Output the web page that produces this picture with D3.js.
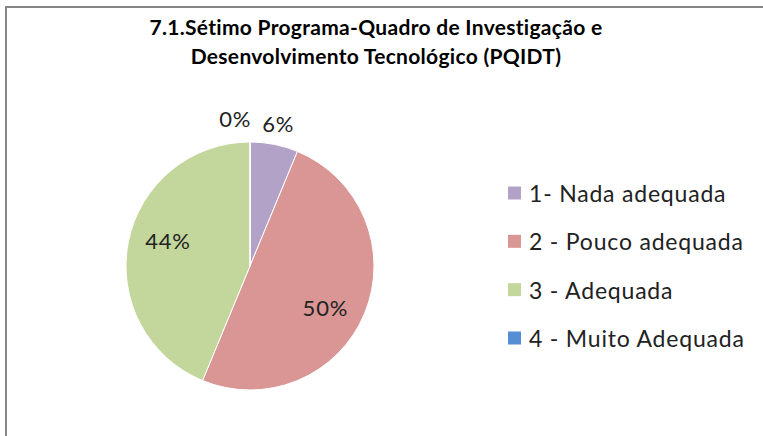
<!DOCTYPE html>
<html>
<head>
<meta charset="utf-8">
<script src="https://cdn.jsdelivr.net/npm/d3@7"></script>
<style>
  body { margin: 0; background: #fff; }
  svg { display: block; font-family: Lato, "Open Sans", sans-serif; }
</style>
</head>
<body>
<div id="chart"></div>
<script>
// dados do gráfico
const titleLines = ["7.1.Sétimo Programa-Quadro de Investigação e", "Desenvolvimento Tecnológico (PQIDT)"];
const categories = ["1- Nada adequada", "2 - Pouco adequada", "3 - Adequada", "4 - Muito Adequada"];
const values = [6.25, 50, 43.75, 0];
const colors = ["#B3A2C7", "#D99694", "#C3D69B", "#558ED5"];

const width = 763;
const height = 436;
const cx = 250, cy = 266, radius = 124;

const svg = d3.select("#chart").append("svg")
    .attr("width", width)
    .attr("height", height);

svg.append("rect").attr("width", width).attr("height", height).attr("fill", "#fff");

// moldura (só topo e esquerda visíveis)
svg.append("rect")
    .attr("x", 6).attr("y", 7)
    .attr("width", width + 20).attr("height", height + 20)
    .attr("fill", "none")
    .attr("stroke", "#868686")
    .attr("stroke-width", 2);

// título
svg.append("text")
    .attr("x", 376)
    .attr("y", 35)
    .attr("text-anchor", "middle")
    .attr("font-weight", "bold")
    .attr("font-size", 21)
    .attr("letter-spacing", 0.3)
    .attr("fill", "#000")
    .selectAll("tspan")
    .data(titleLines)
    .enter().append("tspan")
    .attr("x", 376)
    .attr("dy", (d, i) => i === 0 ? 0 : 29)
    .text(d => d);

const total = d3.sum(values);
const pct = d3.format(".0%");
const pie = d3.pie().sort(null).value(d => d);
const arcs = pie(values);

const arc = d3.arc().innerRadius(0).outerRadius(radius);
const innerLabelArc = d3.arc().innerRadius(86).outerRadius(86);
const outerLabelArc = d3.arc().innerRadius(145).outerRadius(145);

const g = svg.append("g").attr("transform", `translate(${cx},${cy})`);

g.selectAll(".slice")
    .data(arcs)
    .enter().append("path")
    .attr("class", "slice")
    .attr("d", arc)
    .attr("fill", (d, i) => colors[i])
    .attr("stroke", "#fff")
    .attr("stroke-width", 1);

// rótulos de percentagem
const isOutside = d => (d.endAngle - d.startAngle) < 0.6;
// o Excel desloca um pouco os rótulos internos no sentido horário
const shift = d => ({ startAngle: d.startAngle + 0.11, endAngle: d.endAngle + 0.11 });

const labels = g.selectAll(".label")
    .data(arcs)
    .enter().append("text")
    .attr("class", "label")
    .attr("text-anchor", "middle")
    .attr("dominant-baseline", "central")
    .attr("font-size", 22)
    .attr("letter-spacing", 0.8)
    .attr("fill", "#222")
    .attr("transform", d => {
        const c = isOutside(d) ? outerLabelArc.centroid(d) : innerLabelArc.centroid(shift(d));
        return `translate(${c[0]},${c[1]})`;
    })
    .text(d => pct(d.value / total));

// afastar rótulos externos que se sobrepõem
let placed = [];
labels.filter(d => isOutside(d)).each(function (d) {
    const c = outerLabelArc.centroid(d);
    const w = this.getComputedTextLength();
    let x = c[0], y = c[1];
    placed.forEach(p => {
        if (Math.abs(p.x - x) < (p.w + w) / 2 + 10) {
            x = p.x - (p.w + w) / 2 - 11;
            y = y - 3;
        }
    });
    placed.push({ x: x, w: w });
    d3.select(this).attr("transform", `translate(${x},${y})`);
});

// legenda
const legendY = d3.scalePoint().domain(categories).range([193, 338]);

const legend = svg.selectAll(".legend")
    .data(categories)
    .enter().append("g")
    .attr("class", "legend")
    .attr("transform", d => `translate(508,${legendY(d)})`);

legend.append("rect")
    .attr("x", 0).attr("y", -6.5)
    .attr("width", 13).attr("height", 13)
    .attr("fill", (d, i) => colors[i]);

legend.append("text")
    .attr("x", 21)
    .attr("y", 0)
    .attr("dominant-baseline", "central")
    .attr("font-size", 23)
    .attr("letter-spacing", 0.8)
    .attr("fill", "#222")
    .text(d => d);
</script>
</body>
</html>
